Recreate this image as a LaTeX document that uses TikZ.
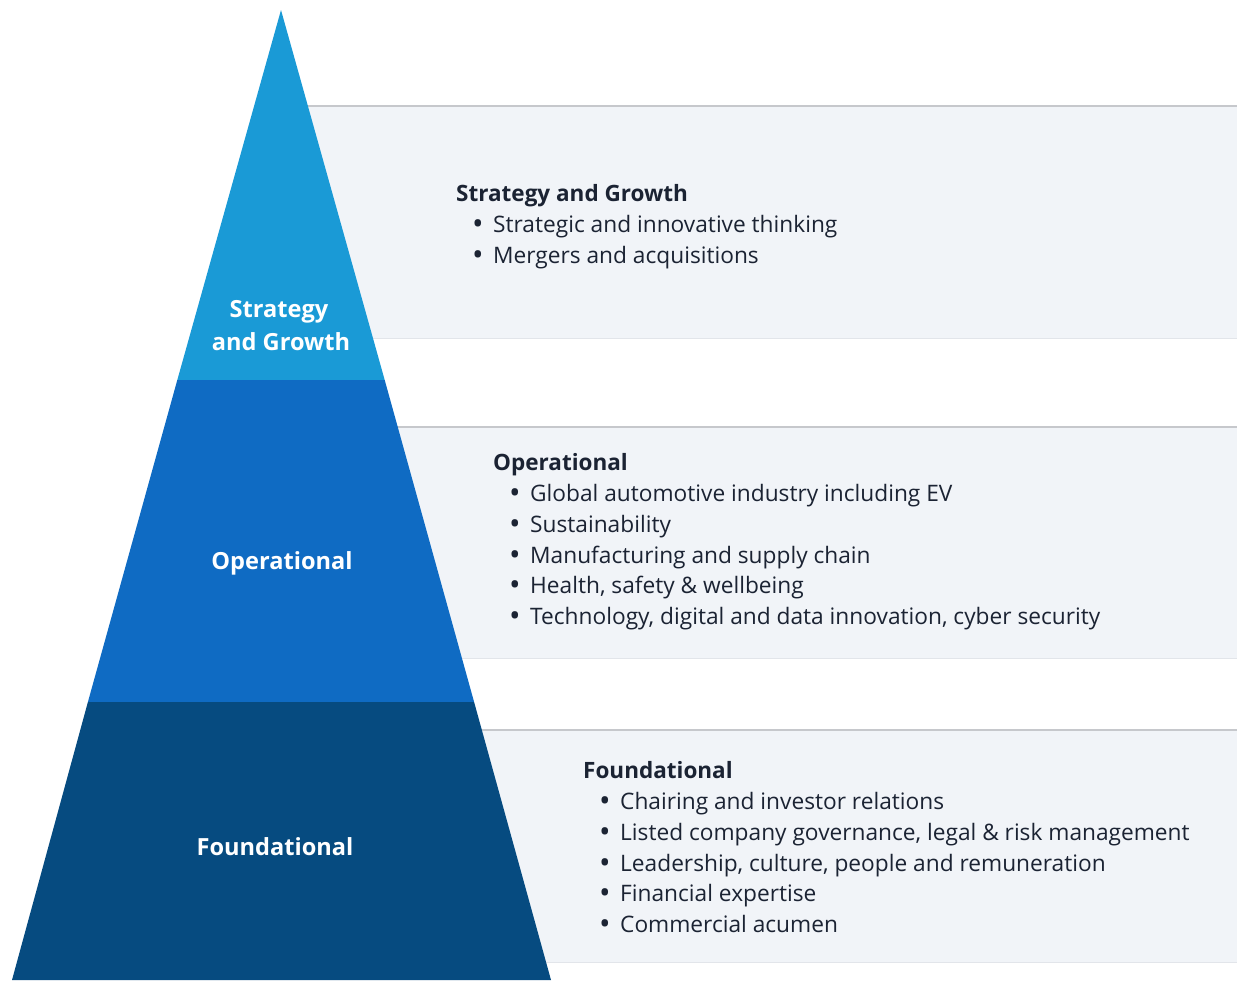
\documentclass[tikz,border=0pt]{standalone}
\usepackage{fontspec}
\setmainfont{Open Sans}
\definecolor{lvlA}{HTML}{1A9AD6}
\definecolor{lvlB}{HTML}{0F6BC3}
\definecolor{lvlC}{HTML}{064B80}
\definecolor{panelfill}{HTML}{F1F4F8}
\definecolor{panelline}{HTML}{C6C8CC}
\definecolor{panelbot}{HTML}{E2E5EA}
\definecolor{ink}{HTML}{1B2333}
\tikzset{
  panel/.style={fill=panelfill, draw=none},
  lvllabel/.style={text=white, font=\fontsize{23.6}{30}\selectfont\bfseries, anchor=base, inner sep=0pt},
  blocktitle/.style={text=ink, font=\fontsize{22.5}{30}\selectfont\bfseries, anchor=base west, inner sep=0pt},
  item/.style={text=ink, font=\fontsize{22.7}{30}\selectfont, anchor=base west, inner sep=0pt},
}
\newcommand{\bul}[1]{\makebox[21pt][l]{\raisebox{-2.4pt}{\scalebox{1.35}{\textbullet}}}#1}
\begin{document}
\begin{tikzpicture}[x=1pt,y=-1pt]
\useasboundingbox (0,0) rectangle (1237,980);
% panels
\fill[panel] (300,106) rectangle (1237,338);
\fill[panel] (300,427) rectangle (1237,658);
\fill[panel] (300,730) rectangle (1237,962);
\draw[panelline, line width=1.2pt] (300,106) -- (1237,106);
\draw[panelline, line width=1.2pt] (300,427) -- (1237,427);
\draw[panelline, line width=1.2pt] (300,730) -- (1237,730);
\draw[panelbot, line width=1pt] (300,338) -- (1237,338);
\draw[panelbot, line width=1pt] (300,658) -- (1237,658);
\draw[panelbot, line width=1pt] (300,962) -- (1237,962);
% pyramid
\fill[lvlA] (281,10) -- (384.7,380) -- (177.3,380) -- cycle;
\fill[lvlB] (177.3,380) -- (384.7,380) -- (474.1,702) -- (87.9,702) -- cycle;
\fill[lvlC] (87.9,702) -- (474.1,702) -- (551,980) -- (12,980) -- cycle;
% pyramid labels
\node[lvllabel] (la1) at (279,317) {Strategy};
\node[lvllabel] (la2) at (281,350) {and Growth};
\node[lvllabel] (lb) at (282,569) {Operational};
\node[lvllabel] (lc) at (275,855) {Foundational};
% block 1
\node[blocktitle] (t1) at (456,201) {Strategy and Growth};
\node[item] (i11) at (472,232) {\bul{Strategic and innovative thinking}};
\node[item] (i12) at (472,263) {\bul{Mergers and acquisitions}};
% block 2
\node[blocktitle] (t2) at (493,470) {Operational};
\node[item] (i21) at (509,501) {\bul{Global automotive industry including EV}};
\node[item] (i22) at (509,532) {\bul{Sustainability}};
\node[item] (i23) at (509,563) {\bul{Manufacturing and supply chain}};
\node[item] (i24) at (509,593) {\bul{Health, safety \& wellbeing}};
\node[item] (i25) at (509,624) {\bul{Technology, digital and data innovation, cyber security}};
% block 3
\node[blocktitle] (t3) at (583,778) {Foundational};
\node[item] (i31) at (599,809) {\bul{Chairing and investor relations}};
\node[item] (i32) at (599,840) {\bul{Listed company governance, legal \& risk management}};
\node[item] (i33) at (599,871) {\bul{Leadership, culture, people and remuneration}};
\node[item] (i34) at (599,901) {\bul{Financial expertise}};
\node[item] (i35) at (599,932) {\bul{Commercial acumen}};
\end{tikzpicture}
\end{document}
